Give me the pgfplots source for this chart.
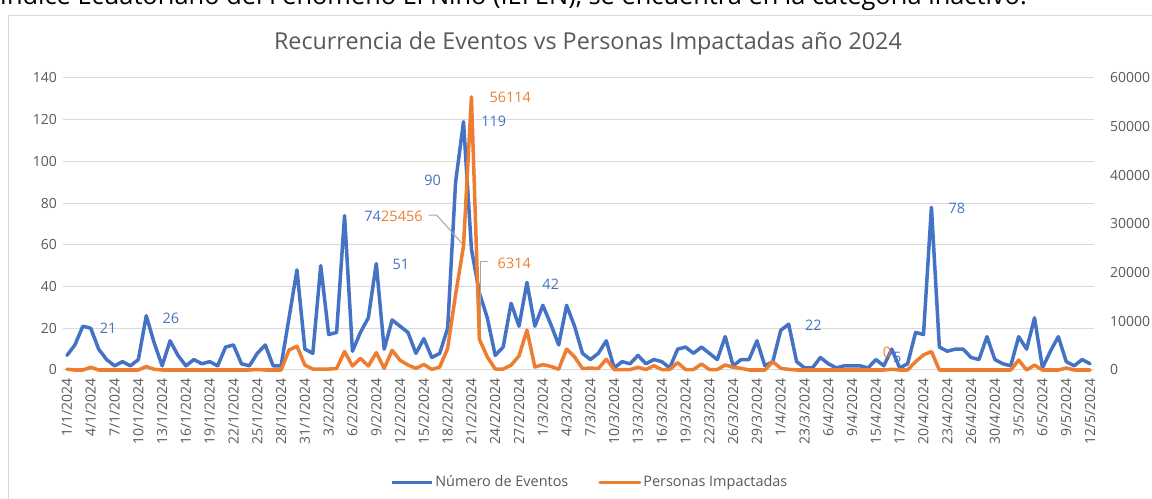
\documentclass[border=0pt]{standalone}
\usepackage{pgfplots}
\pgfplotsset{compat=1.18}
\usepackage{pgfplotstable}
\usepackage{fontspec}
\setmainfont{Open Sans}
\definecolor{cblue}{HTML}{4472C4}
\definecolor{corange}{HTML}{ED7D31}
\definecolor{txt}{HTML}{595959}
\definecolor{gridc}{HTML}{D9D9D9}

\pgfplotstableread{
i v
0 7
1 12
2 21
3 20
4 10
5 5
6 2
7 4
8 2
9 5
10 26
11 13
12 2
13 14
14 7
15 2
16 5
17 3
18 4
19 2
20 11
21 12
22 3
23 2
24 8
25 12
26 2
27 2
28 25
29 48
30 10
31 8
32 50
33 17
34 18
35 74
36 9
37 18
38 25
39 51
40 10
41 24
42 21
43 18
44 8
45 15
46 6
47 8
48 20
49 90
50 119
51 58
52 37
53 25
54 7
55 11
56 32
57 21
58 42
59 21
60 31
61 22
62 12
63 31
64 21
65 8
66 5
67 8
68 14
69 1
70 4
71 3
72 7
73 3
74 5
75 4
76 1
77 10
78 11
79 8
80 11
81 8
82 5
83 16
84 2
85 5
86 5
87 14
88 2
89 4
90 19
91 22
92 4
93 1
94 1
95 6
96 3
97 1
98 2
99 2
100 2
101 1
102 5
103 2
104 10
105 1
106 3
107 18
108 17
109 78
110 11
111 9
112 10
113 10
114 6
115 5
116 16
117 5
118 3
119 2
120 16
121 10
122 25
123 1
124 9
125 16
126 4
127 2
128 5
129 3
}\eventos

\pgfplotstableread{
i v
0 150
1 0
2 0
3 550
4 0
5 0
6 0
7 0
8 0
9 0
10 700
11 150
12 0
13 0
14 0
15 0
16 0
17 0
18 0
19 0
20 0
21 0
22 0
23 0
24 100
25 0
26 0
27 0
28 4100
29 4900
30 1000
31 200
32 200
33 200
34 300
35 3800
36 820
37 2400
38 820
39 3560
40 340
41 4050
42 2000
43 1030
44 340
45 1140
46 130
47 600
48 4450
49 15500
50 25456
51 56114
52 6314
53 2700
54 200
55 200
56 1000
57 2900
58 8200
59 600
60 1100
61 750
62 150
63 4300
64 2700
65 300
66 400
67 300
68 2200
69 100
70 100
71 100
72 550
73 100
74 880
75 100
76 100
77 1500
78 100
79 100
80 1230
81 100
82 100
83 1030
84 550
85 340
86 0
87 0
88 0
89 1700
90 340
91 130
92 0
93 0
94 0
95 0
96 0
97 0
98 0
99 0
100 0
101 0
102 0
103 0
104 150
105 0
106 0
107 1700
108 3100
109 3800
110 0
111 0
112 0
113 0
114 0
115 0
116 0
117 0
118 0
119 0
120 2050
121 0
122 1000
123 0
124 0
125 0
126 400
127 0
128 0
129 0
}\personas

\begin{document}
\begin{tikzpicture}
\path[use as bounding box] (0,0) rectangle (1152bp,499bp);
\draw[gridc, line width=1bp] (8bp,-20bp) rectangle (1180bp,483bp);
\node[anchor=base east, inner sep=0pt, text=black, font=\fontsize{25.5}{28}\selectfont] at (1027bp,494bp) {Índice Ecuatoriano del Fenómeno El Niño (IEFEN), se encuentra en la categoría inactivo.};
\node[anchor=base, inner sep=0pt, text=txt, font=\fontsize{23.4}{27}\selectfont] at (588bp,449bp) {Recurrencia de Eventos vs Personas Impactadas año 2024};

\begin{axis}[
  at={(63bp,129bp)}, anchor=south west, scale only axis,
  width=1031bp, height=292bp,
  xmin=-0.5, xmax=129.5, ymin=0, ymax=140,
  clip=false,
  axis line style={draw=none},
  tick style={draw=none},
  ytick={0,20,...,140},
  ymajorgrids, grid style={gridc, line width=1bp},
  xtick={0,3,...,129},
  xticklabels={1/1/2024,4/1/2024,7/1/2024,10/1/2024,13/1/2024,16/1/2024,19/1/2024,22/1/2024,25/1/2024,28/1/2024,31/1/2024,3/2/2024,6/2/2024,9/2/2024,12/2/2024,15/2/2024,18/2/2024,21/2/2024,24/2/2024,27/2/2024,1/3/2024,4/3/2024,7/3/2024,10/3/2024,13/3/2024,16/3/2024,19/3/2024,22/3/2024,26/3/2024,29/3/2024,1/4/2024,23/3/2024,6/4/2024,9/4/2024,15/4/2024,17/4/2024,20/4/2024,23/4/2024,26/4/2024,30/4/2024,3/5/2024,6/5/2024,9/5/2024,12/5/2024},
  ticklabel style={font=\fontsize{14}{16}\selectfont, text=txt, inner sep=0pt},
  xticklabel style={rotate=90, anchor=east},
  yticklabel style={anchor=east},
  xticklabel shift=8bp,
  yticklabel shift=6bp,
  /pgf/number format/assume math mode=true,
]
\addplot[cblue, line width=3.5bp, line join=round, line cap=round, mark=none] table[x=i,y=v] {\eventos};
\begin{scope}[font=\fontsize{14.5}{16}\selectfont]
\node[text=cblue] at (axis cs:5.2,20.1) {21};
\node[text=cblue] at (axis cs:13.1,24.9) {26};
\node[text=cblue, anchor=east, inner sep=0pt] at (axis cs:39.6,73.8) {74};
\node[text=corange, anchor=west, inner sep=0pt] at (axis cs:39.6,73.8) {25456};
\node[text=cblue] at (axis cs:46.1,91.1) {90};
\node[text=cblue] at (axis cs:53.8,119.3) {119};
\node[text=corange] at (axis cs:55.9,130.9) {56114};
\node[text=corange] at (axis cs:56.4,51.3) {6314};
\node[text=cblue] at (axis cs:42.1,50.4) {51};
\node[text=cblue] at (axis cs:61.0,41.2) {42};
\node[text=cblue] at (axis cs:94.1,21.6) {22};
\node[text=cblue] at (axis cs:112.2,77.7) {78};
\node[text=corange] at (axis cs:103.4,8.6) {0};
\node[text=cblue] at (axis cs:104.7,6.2) {5};
\end{scope}
\draw[gray!70, line width=1bp] (axis cs:45.6,74.3) -- (axis cs:46.6,74.3) -- (axis cs:50,59.9);
\draw[gray!70, line width=1bp] (axis cs:53.1,51.8) -- (axis cs:52.2,51.8) -- (axis cs:52.2,15.3);
\end{axis}

\begin{axis}[
  at={(63bp,129bp)}, anchor=south west, scale only axis,
  width=1031bp, height=292bp,
  xmin=-0.5, xmax=129.5, ymin=0, ymax=60000,
  clip=false,
  axis x line=none, axis y line*=right,
  axis line style={draw=none},
  tick style={draw=none},
  ytick={0,10000,...,60000},
  scaled y ticks=false,
  ticklabel style={font=\fontsize{14}{16}\selectfont, text=txt, inner sep=0pt},
  yticklabel style={anchor=west},
  yticklabel shift=16bp,
  /pgf/number format/.cd, 1000 sep={}, assume math mode=true, /pgfplots/.cd,
  legend style={at={(0.511,-0.384)}, anchor=center, draw=none, fill=none,
    legend columns=2, font=\fontsize{14.5}{16}\selectfont, text=txt,
    /tikz/every even column/.append style={column sep=28bp}},
  legend cell align=left,
  legend image code/.code={\draw[#1, line width=3bp] (0bp,0bp) -- (40bp,0bp);},
]
\addlegendimage{cblue, line width=3bp}
\addlegendentry{Número de Eventos}
\addplot[corange, line width=3.5bp, line join=round, line cap=round, mark=none] table[x=i,y=v] {\personas};
\addlegendentry{Personas Impactadas}
\end{axis}
\end{tikzpicture}
\end{document}
